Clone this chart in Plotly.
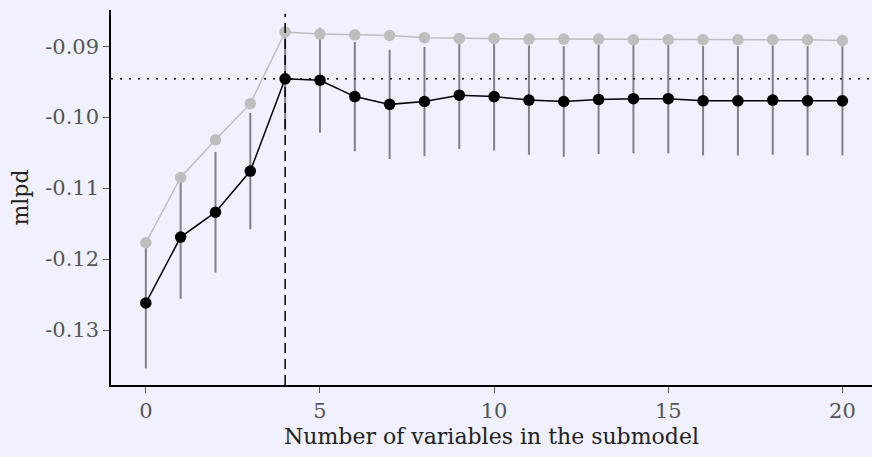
import plotly.graph_objects as go

n_vars = list(range(21))
ref_mlpd = [-0.1177, -0.1085, -0.1032, -0.0981, -0.0880, -0.0883, -0.0884, -0.0885, -0.0888, -0.0889,
            -0.0889, -0.0890, -0.0890, -0.0890, -0.0891, -0.0891, -0.0891, -0.0891, -0.0891, -0.0891, -0.0892]
sub_mlpd = [-0.1262, -0.1169, -0.1134, -0.1076, -0.0946, -0.0948, -0.0971, -0.0982, -0.0978, -0.0969,
            -0.0971, -0.0976, -0.0978, -0.0975, -0.0974, -0.0974, -0.0977, -0.0977, -0.0976, -0.0977, -0.0977]
sub_se = [0.0092, 0.0087, 0.0085, 0.0082, 0.0073, 0.0074, 0.0077, 0.0077, 0.0077, 0.0076,
          0.0076, 0.0077, 0.0078, 0.0077, 0.0077, 0.0077, 0.0077, 0.0077, 0.0077, 0.0077, 0.0077]
x_ticks = [0, 5, 10, 15, 20]
y_ticks = [-0.13, -0.12, -0.11, -0.10, -0.09]
y_tick_text = ["-0.13", "-0.12", "-0.11", "-0.10", "-0.09"]
suggested_size = 4

FONT = "DejaVu Serif"
BG = "#f0f0fe"

fig = go.Figure()
fig.add_trace(go.Scatter(
    x=n_vars, y=sub_mlpd, mode="markers",
    marker=dict(size=1, color="rgba(0,0,0,0)"),
    error_y=dict(type="data", array=sub_se, visible=True, color="#80808a", thickness=2, width=0),
    showlegend=False, hoverinfo="skip"))
fig.add_trace(go.Scatter(
    x=n_vars, y=ref_mlpd, mode="lines+markers",
    line=dict(color="#bebebe", width=1.5),
    marker=dict(color="#bebebe", size=11.5),
    showlegend=False))
fig.add_trace(go.Scatter(
    x=n_vars, y=sub_mlpd, mode="lines+markers",
    line=dict(color="black", width=1.5),
    marker=dict(color="black", size=11.5),
    showlegend=False))

fig.add_shape(type="line", xref="x", yref="paper", x0=suggested_size, x1=suggested_size, y0=0, y1=0.99,
              line=dict(color="black", width=1.5, dash="10px,6px"))
fig.add_shape(type="line", xref="paper", yref="y", x0=0, x1=1, y0=sub_mlpd[suggested_size], y1=sub_mlpd[suggested_size],
              line=dict(color="black", width=1.5, dash="2px,7px"))

fig.update_layout(
    width=872, height=457,
    margin=dict(l=111, r=0, t=10, b=72),
    paper_bgcolor=BG, plot_bgcolor=BG,
    font=dict(family=FONT, size=21, color="#555555"),
    xaxis=dict(range=[-1.0, 20.85], tickvals=x_ticks, showgrid=False, zeroline=False,
               showline=True, linecolor="black", linewidth=1.5,
               ticks="outside", ticklen=6, tickcolor="#555555", tickwidth=1,
               tickfont=dict(size=21, color="#555555"),
               title=dict(text="Number of variables in the submodel", font=dict(size=22, color="#222222"), standoff=7)),
    yaxis=dict(range=[-0.13775, -0.0849], tickvals=y_ticks, ticktext=y_tick_text, showgrid=False, zeroline=False,
               showline=True, linecolor="black", linewidth=1.5,
               ticks="outside", ticklen=6, tickcolor="#555555", tickwidth=1,
               tickfont=dict(size=21, color="#555555"),
               title=dict(text="mlpd", font=dict(size=22, color="#222222"), standoff=10)),
)

fig.write_html("out.html", config={"displayModeBar": False},
               post_script="document.body.style.margin='0';document.body.style.background='" + BG + "';")
